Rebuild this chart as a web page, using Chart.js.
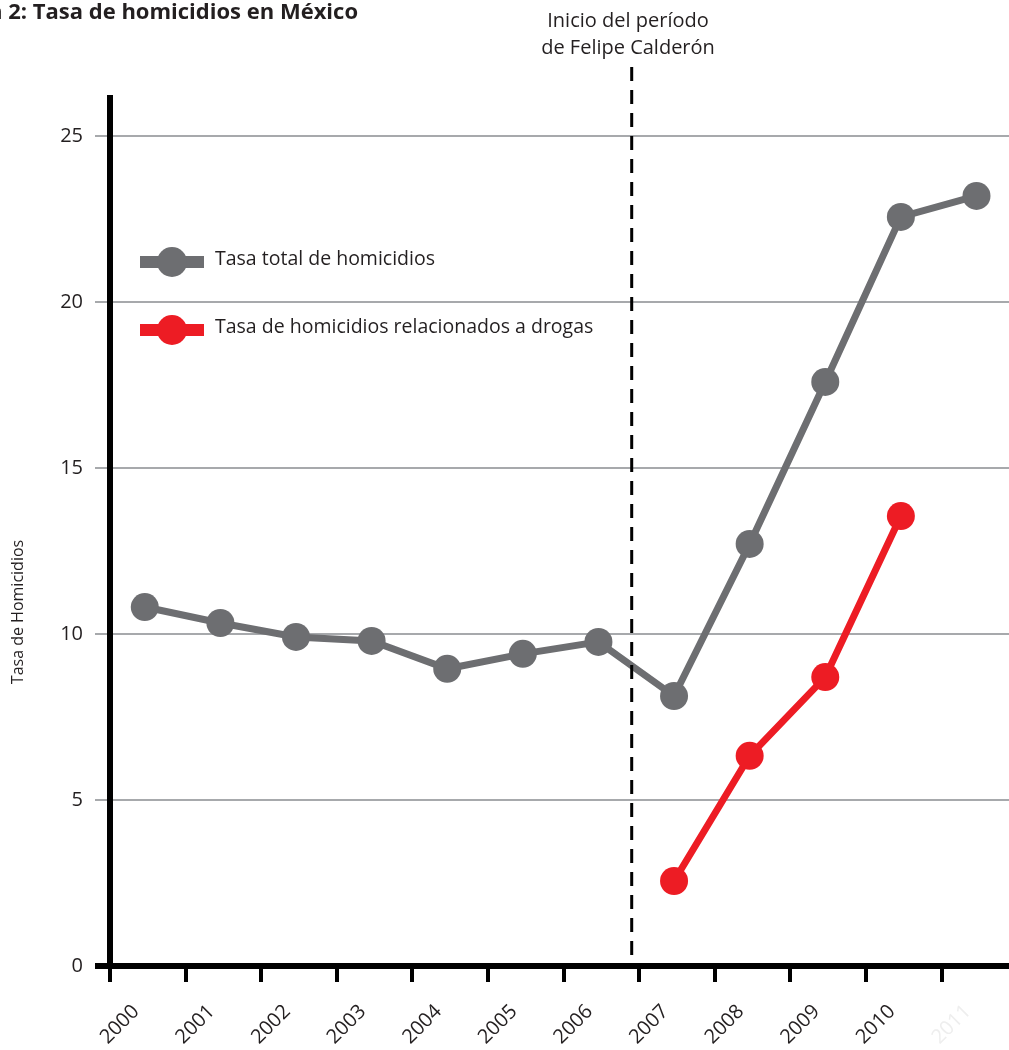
<!DOCTYPE html>
<html>
<head>
<meta charset="utf-8">
<script src="https://cdn.jsdelivr.net/npm/chart.js@4.4.1/dist/chart.umd.min.js"></script>
<style>
  html, body { margin: 0; padding: 0; background: #fff; overflow: hidden; }
  canvas { display: block; }
</style>
</head>
<body>
<canvas id="homicideChart" width="1009" height="1050"></canvas>
<script>
const years = ["2000", "2001", "2002", "2003", "2004", "2005", "2006", "2007", "2008", "2009", "2010", "2011"];
const totalRate = [10.81, 10.33, 9.91, 9.79, 8.95, 9.40, 9.76, 8.13, 12.71, 17.59, 22.56, 23.19];
const drugRate = [null, null, null, null, null, null, null, 2.56, 6.33, 8.70, 13.55, null];
const yTicks = [0, 5, 10, 15, 20, 25];
const seriesNames = ["Tasa total de homicidios", "Tasa de homicidios relacionados a drogas"];
const calderonStart = 6.9;

const GRAY = "#6d6e71";
const RED = "#ed1c24";
const TEXT = "#231f20";
const FONT = "'Open Sans', sans-serif";

// points sit between the year tick marks
function toPoints(values) {
  return values.map((v, i) => ({ x: i + 0.46, y: v }));
}

const extras = {
  id: "extras",
  afterDraw(chart) {
    const ctx = chart.ctx;
    const xs = chart.scales.x;
    const area = chart.chartArea;
    ctx.save();

    // dashed line for start of Calderón period
    const lx = xs.getPixelForValue(calderonStart);
    ctx.strokeStyle = "#000";
    ctx.lineWidth = 3;
    ctx.setLineDash([14, 9]);
    ctx.beginPath();
    ctx.moveTo(lx, 67);
    ctx.lineTo(lx, area.bottom);
    ctx.stroke();
    ctx.setLineDash([]);

    ctx.fillStyle = TEXT;
    ctx.font = "20px " + FONT;
    ctx.textAlign = "center";
    ctx.textBaseline = "middle";
    ctx.fillText("Inicio del período", 628, 21);
    ctx.fillText("de Felipe Calderón", 628, 48);

    // title (cut at the left edge)
    ctx.font = "bold 22px " + FONT;
    ctx.textAlign = "right";
    ctx.fillText("Gráfica 2: Tasa de homicidios en México", 358, 13);

    // y axis title
    ctx.font = "16px " + FONT;
    ctx.textAlign = "center";
    ctx.translate(18, 612);
    ctx.rotate(-Math.PI / 2);
    ctx.fillText("Tasa de Homicidios", 0, 0);
    ctx.rotate(Math.PI / 2);
    ctx.translate(-18, -612);

    // legend
    const colors = [GRAY, RED];
    const rows = [262, 330];
    seriesNames.forEach((name, i) => {
      const y = rows[i];
      ctx.strokeStyle = colors[i];
      ctx.lineWidth = 12;
      ctx.beginPath();
      ctx.moveTo(140, y);
      ctx.lineTo(204, y);
      ctx.stroke();
      ctx.fillStyle = colors[i];
      ctx.beginPath();
      ctx.arc(172, y, 15, 0, Math.PI * 2);
      ctx.fill();
      ctx.fillStyle = TEXT;
      ctx.font = "19.5px " + FONT;
      ctx.textAlign = "left";
      ctx.textBaseline = "middle";
      ctx.fillText(name, 215, y - 3);
    });
    ctx.restore();
  }
};

new Chart(document.getElementById("homicideChart"), {
  type: "line",
  data: {
    datasets: [
      {
        label: seriesNames[0],
        data: toPoints(totalRate),
        borderColor: GRAY,
        backgroundColor: GRAY,
        borderWidth: 7,
        pointRadius: 14,
        pointBorderWidth: 0,
        pointHoverRadius: 14,
      },
      {
        label: seriesNames[1],
        data: toPoints(drugRate),
        borderColor: RED,
        backgroundColor: RED,
        borderWidth: 7,
        pointRadius: 14,
        pointBorderWidth: 0,
        pointHoverRadius: 14,
        spanGaps: false,
      },
    ],
  },
  options: {
    responsive: false,
    animation: false,
    devicePixelRatio: 1,
    layout: { autoPadding: false, padding: { top: 98, left: 0, right: 0, bottom: 0 } },
    plugins: {
      legend: { display: false },
      tooltip: { enabled: false },
    },
    scales: {
      x: {
        type: "linear",
        min: 0,
        max: 11.89,
        afterBuildTicks: (s) => { s.ticks = years.map((y, i) => ({ value: i })); },
        afterFit: (s) => { s.height = 84; s.paddingLeft = 0; s.paddingRight = 0; },
        border: { color: "#000", width: 6 },
        grid: {
          drawOnChartArea: false,
          drawTicks: true,
          tickLength: 16,
          color: "#000",
          lineWidth: 4,
        },
        ticks: {
          autoSkip: false,
          maxRotation: 45,
          minRotation: 45,
          labelOffset: 26,
          padding: 18,
          color: (c) => (c.index === 11 ? "#eeeeee" : TEXT),
          font: { family: FONT, size: 20 },
          callback: (v) => years[Math.round(v)],
        },
      },
      y: {
        min: 0,
        max: 26.14,
        afterBuildTicks: (s) => { s.ticks = yTicks.map((v) => ({ value: v })); },
        afterFit: (s) => { s.width = 110; },
        border: { color: "#000", width: 6 },
        grid: {
          color: (c) => (c.tick && c.tick.value === 0 ? "#000" : "#a7a9ac"),
          lineWidth: (c) => (c.tick && c.tick.value === 0 ? 6 : 2),
          tickLength: 15,
        },
        ticks: {
          padding: 12,
          color: TEXT,
          font: { family: FONT, size: 20 },
        },
      },
    },
  },
  plugins: [extras],
});
</script>
</body>
</html>
